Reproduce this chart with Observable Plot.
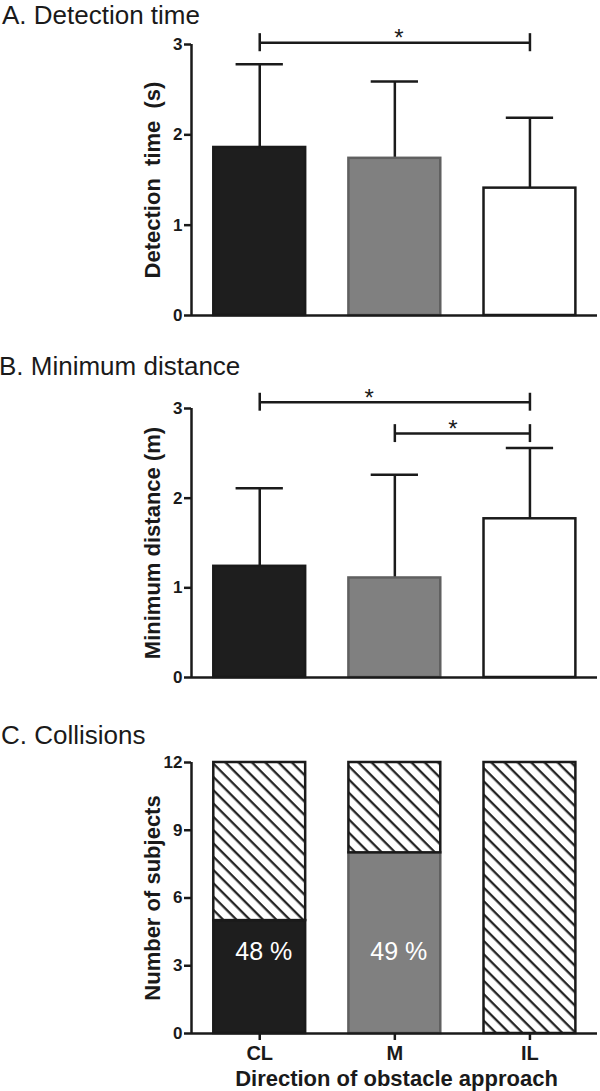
<!DOCTYPE html>
<html>
<head>
<meta charset="utf-8">
<script src="https://cdn.jsdelivr.net/npm/d3@7"></script>
<script src="https://cdn.jsdelivr.net/npm/@observablehq/plot@0.6"></script>
<style>
  html, body { margin: 0; padding: 0; background: #fff; }
  #wrap { position: relative; width: 600px; height: 1091px; overflow: hidden;
          font-family: Arial, "Liberation Sans", sans-serif; }
  .title { position: absolute; font-size: 26px; line-height: 26px; color: #1a1a1a;
           white-space: nowrap; z-index: 2; }
  .panel { position: absolute; left: 0; }
</style>
</head>
<body>
<svg width="0" height="0" style="position:absolute">
  <defs>
    <pattern id="hatch" patternUnits="userSpaceOnUse" width="9.4" height="9.4" patternTransform="rotate(45)">
      <rect width="9.4" height="9.4" fill="#ffffff"></rect>
      <line x1="-1" y1="1.2" x2="10.4" y2="1.2" stroke="#1a1a1a" stroke-width="2.2"></line>
    </pattern>
  </defs>
</svg>
<div id="wrap">
  <div class="title" style="left:2px; top:1.5px">A. Detection time</div>
  <div id="panelA" class="panel" style="top:24px"></div>
  <div class="title" style="left:-1px; top:353px">B. Minimum distance</div>
  <div id="panelB" class="panel" style="top:380px"></div>
  <div class="title" style="left:1px; top:722px">C. Collisions</div>
  <div id="panelC" class="panel" style="top:748px"></div>
</div>
<script>
// ---------- data ----------
const categories = ["CL", "M", "IL"];
const detectionMean = [1.86, 1.74, 1.41];
const detectionSD = [0.92, 0.85, 0.78];
const distanceMean = [1.24, 1.11, 1.77];
const distanceSD = [0.87, 1.15, 0.79];
const collisions = [5, 8, 0];
const totalSubjects = [12, 12, 12];
const collisionPercent = ["48 %", "49 %", null];
const barYTicks = [0, 1, 2, 3];
const subjectTicks = [0, 3, 6, 9, 12];
// significance brackets (category index from/to, bracket level, star position)
const bracketsA = [{from: 0, to: 2, level: 3.02, star: 1.03}];
const bracketsB = [{from: 0, to: 2, level: 3.07, star: 0.81}, {from: 1, to: 2, level: 2.72, star: 1.43}];
const titleA = "Detection\u00a0 time\u00a0 (s)";
const titleB = "Minimum distance (m)";
const titleC = "Number of subjects";
const xTitle = "Direction of obstacle approach";

// ---------- style ----------
const ink = "#1a1a1a";
const barFill = {CL: "#1e1e1e", M: "#808080", IL: "#ffffff"};
const barStroke = {CL: "#1a1a1a", M: "#606060", IL: "#1a1a1a"};
const xDomain = [-0.505, 2.5];
const barHalf = 0.34, capHalf = 0.175, sw = 2.5;
const font = "Arial, 'Liberation Sans', sans-serif";
const svgStyle = {fontFamily: font, background: "transparent", color: ink, overflow: "visible"};

function yAxis(ticks) {
  return Plot.axisY({ticks, tickSize: 7, tickPadding: 2, fontSize: 17, fontWeight: "bold",
    strokeWidth: sw, label: null, tickFormat: d => String(d), fill: ink, stroke: ink});
}
function yTitle(t) {
  return Plot.text([t], {text: d => d, frameAnchor: "left", textAnchor: "middle", lineAnchor: "middle",
    rotate: -90, dx: -39, fontSize: 22, fontWeight: "bold", fill: ink});
}

function barPanel(mean, sd, brackets, label, height, mt, mb) {
  const rows = categories.map((c, i) => ({cat: c, i, mean: mean[i], upper: mean[i] + sd[i]}));
  const ends = brackets.flatMap(b => [{x: b.from, level: b.level}, {x: b.to, level: b.level}]);
  return Plot.plot({
    width: 600, height, marginLeft: 191, marginRight: 3, marginTop: mt, marginBottom: mb,
    x: {domain: xDomain, axis: null},
    y: {domain: [0, 3], axis: null},
    color: {type: "identity"},
    style: svgStyle,
    marks: [
      Plot.ruleX(rows, {x: "i", y1: "mean", y2: "upper", stroke: ink, strokeWidth: sw}),
      Plot.ruleY(rows, {y: "upper", x1: d => d.i - capHalf, x2: d => d.i + capHalf, stroke: ink, strokeWidth: sw}),
      Plot.rect(rows, {x1: d => d.i - barHalf, x2: d => d.i + barHalf, y1: 0, y2: "mean",
        fill: d => barFill[d.cat], stroke: d => barStroke[d.cat], strokeWidth: sw}),
      Plot.ruleY(brackets, {y: "level", x1: "from", x2: "to", stroke: ink, strokeWidth: sw}),
      Plot.ruleX(ends, {x: "x", y1: d => d.level - 0.1, y2: d => d.level + 0.1, stroke: ink, strokeWidth: sw}),
      Plot.text(brackets, {x: "star", y: "level", text: () => "*", dy: -4, fontSize: 24, fill: ink}),
      yAxis(barYTicks),
      Plot.ruleX([xDomain[0]], {stroke: ink, strokeWidth: sw}),
      Plot.ruleY([0], {stroke: ink, strokeWidth: sw}),
      yTitle(label)
    ]
  });
}

document.getElementById("panelA").append(barPanel(detectionMean, detectionSD, bracketsA, titleA, 316, 20, 25));
document.getElementById("panelB").append(barPanel(distanceMean, distanceSD, bracketsB, titleB, 310, 28, 13));

// ---------- panel C ----------
const rowsC = categories.map((c, i) => ({cat: c, i, hit: collisions[i], total: totalSubjects[i], pct: collisionPercent[i]}));
const panelC = Plot.plot({
  width: 600, height: 343, marginLeft: 191, marginRight: 3, marginTop: 14, marginBottom: 58,
  x: {domain: xDomain, axis: null},
  y: {domain: [0, 12], axis: null},
  color: {type: "identity"},
  style: svgStyle,
  marks: [
    Plot.rect(rowsC.filter(d => d.hit > 0), {x1: d => d.i - barHalf, x2: d => d.i + barHalf, y1: 0, y2: "hit",
      fill: d => barFill[d.cat], stroke: d => barStroke[d.cat], strokeWidth: sw}),
    Plot.rect(rowsC, {x1: d => d.i - barHalf, x2: d => d.i + barHalf, y1: "hit", y2: "total",
      fill: "url(#hatch)", stroke: ink, strokeWidth: sw}),
    Plot.text(rowsC.filter(d => d.pct), {x: "i", y: 3.6, text: "pct", dx: 4, fontSize: 25, fill: "#ffffff"}),
    yAxis(subjectTicks),
    Plot.axisX({ticks: [0, 1, 2], tickFormat: i => categories[i], tickSize: 7, tickPadding: 5,
      fontSize: 20, fontWeight: "bold", strokeWidth: sw, label: null, fill: ink, stroke: ink}),
    Plot.ruleX([xDomain[0]], {stroke: ink, strokeWidth: sw}),
    Plot.ruleY([0], {stroke: ink, strokeWidth: sw}),
    yTitle(titleC),
    Plot.text([xTitle], {text: d => d, frameAnchor: "bottom", lineAnchor: "middle", textAnchor: "middle",
      dy: 45, dx: 2, fontSize: 22, fontWeight: "bold", fill: ink})
  ]
});
document.getElementById("panelC").append(panelC);
</script>
</body>
</html>
